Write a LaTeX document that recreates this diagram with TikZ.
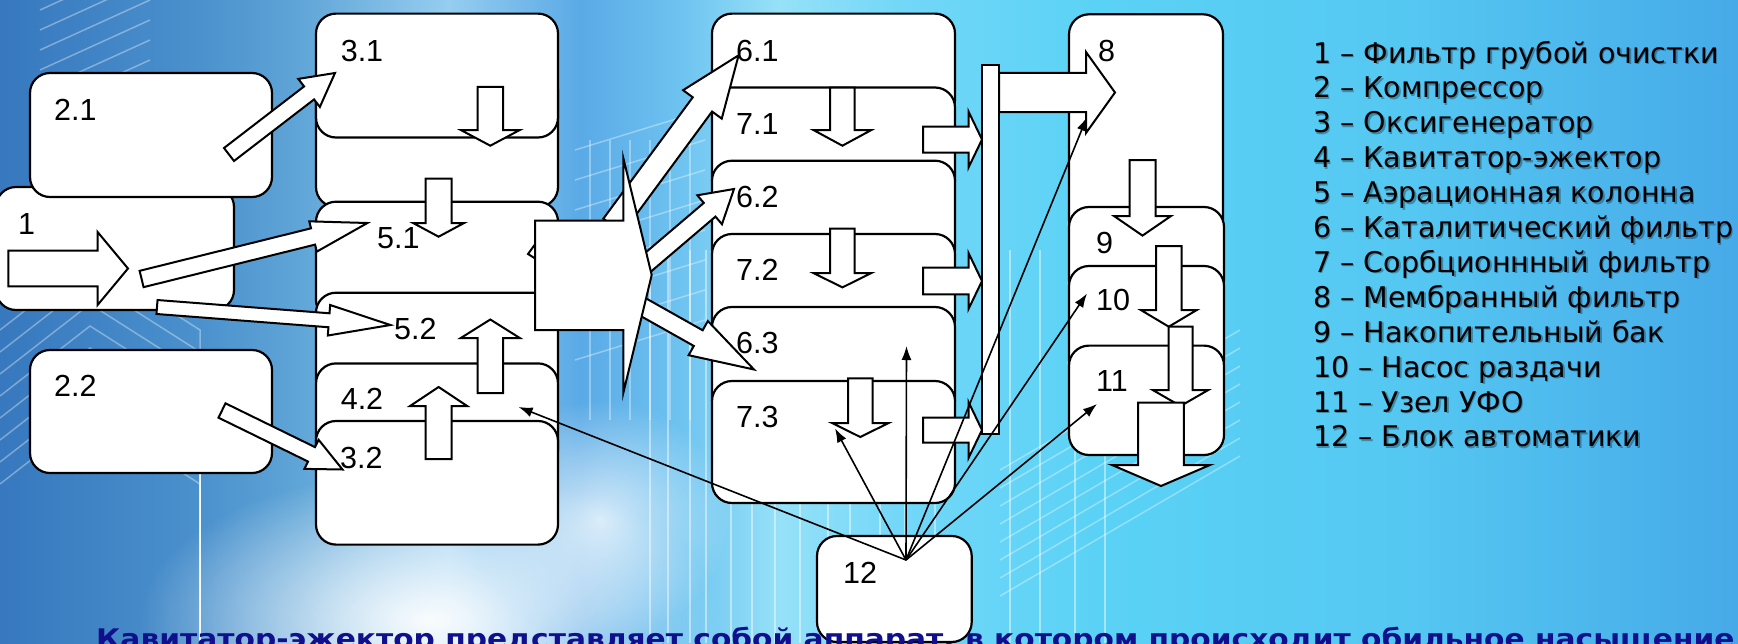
\documentclass[tikz,border=0pt]{standalone}
\usepackage{fontspec}
\setmainfont{Liberation Sans}
\newfontfamily\legfont{DejaVu Sans}
\newfontfamily\capfont{DejaVu Sans}[FakeStretch=1.1, BoldFeatures={FakeStretch=1.1}]
\usetikzlibrary{calc,arrows.meta,fadings}

\definecolor{navytxt}{RGB}{16,16,140}
\definecolor{bgA}{RGB}{55,120,190}
\definecolor{bgB}{RGB}{75,145,205}
\definecolor{bgC}{RGB}{95,165,215}
\definecolor{bgD}{RGB}{150,205,240}
\definecolor{bgE}{RGB}{90,170,230}
\definecolor{bgF}{RGB}{110,195,240}
\definecolor{bgG}{RGB}{150,225,248}
\definecolor{bgH}{RGB}{115,215,248}
\definecolor{bgI}{RGB}{90,210,245}
\definecolor{bgK}{RGB}{85,200,242}
\definecolor{bgJ}{RGB}{70,170,232}

\pgfdeclarehorizontalshading{bgsh}{100bp}{color(0bp)=(bgA); color(25bp)=(bgA); color(30.75bp)=(bgB); color(33.6bp)=(bgC); color(37.9bp)=(bgD); color(41.7bp)=(bgE); color(44.6bp)=(bgF); color(47.4bp)=(bgG); color(50.9bp)=(bgH); color(56.6bp)=(bgI); color(65.3bp)=(bgK); color(75bp)=(bgJ); color(100bp)=(bgJ)}

\tikzfading[name=softglow, inner color=transparent!0, outer color=transparent!100]

% block arrow: start, end, shaft half width, head half width, head length
\newcommand\blkarrow[5]{%
  \coordinate (bA) at (#1);
  \coordinate (bB) at (#2);
  \coordinate (bH) at ($(bB)!#5!(bA)$);
  \draw[blk] ($(bA)!#3!90:(bB)$) -- ($(bH)!#3!90:(bB)$) -- ($(bH)!#4!90:(bB)$) -- (bB)
    -- ($(bH)!#4!-90:(bB)$) -- ($(bH)!#3!-90:(bB)$) -- ($(bA)!#3!-90:(bB)$) -- cycle;
}

\begin{document}
\begin{tikzpicture}[x=1pt,y=-1pt,
  box/.style={draw=black, fill=white, line width=2.2pt, rounded corners=20pt},
  blk/.style={draw=black, fill=white, line width=2pt, line join=miter},
  lbl/.style={anchor=base west, inner sep=0pt, font=\fontsize{30.5}{30.5}\selectfont},
  leg/.style={anchor=base west, inner sep=0pt, font=\legfont\fontsize{28.5}{30}\selectfont},
  sig/.style={line width=1.6pt, -{Latex[length=14pt,width=10pt]}},
  bgline/.style={white, opacity=0.35, line width=1.5pt}]

\useasboundingbox (0,0) rectangle (1738,643);
\clip (0,0) rectangle (1738,643);

% ---------- background ----------
\fill[shading=bgsh] (0,0) rectangle (1738,643);
\fill[white, path fading=softglow, opacity=0.95] (430,620) ellipse [x radius=290, y radius=150];
\fill[white, path fading=softglow, opacity=0.75] (600,520) ellipse [x radius=130, y radius=120];
\foreach \xx in {650,668,690,706,731,752,775,800,828,850,880,905,935,1010,1040,1075,1105} {
  \draw[white, opacity=0.45, line width=2pt] (\xx,250) -- (\xx,643);
}
\foreach \k in {0,...,7} {
  \draw[bgline] (0,{330+22*\k}) -- (90,{260+22*\k}) -- (200,{330+22*\k}) -- (200,643);
  \draw[bgline] (40,{10+20*\k}) -- (150,{-40+20*\k});
  \draw[bgline] (575,{150+30*\k}) -- (705,{110+30*\k});
  \draw[bgline] (1000,{470+18*\k}) -- (1240,{330+18*\k});
}
\foreach \xx in {590,610,630,650,670,690} { \draw[bgline] (\xx,140) -- (\xx,420); }

% ---------- left boxes ----------
\draw[box] (-4,187) rectangle (234,310);
\draw[box] (30,73) rectangle (272,197);
\draw[box] (30,350) rectangle (272,473);

% ---------- column A ----------
\draw[box] (316,70) rectangle (558,207);
\draw[box] (316,13.6) rectangle (558,137.5);
\draw[box] (316,201.7) rectangle (558,320);
\draw[box] (316,292.7) rectangle (558,400);
\draw[box] (316,363.4) rectangle (558,470);
\draw[box] (316,421) rectangle (558,544.6);

% ---------- column B ----------
\draw[box] (712,13.6) rectangle (955,120);
\draw[box] (712,87.5) rectangle (955,200);
\draw[box] (712,160.7) rectangle (955,270);
\draw[box] (712,234) rectangle (955,340);
\draw[box] (712,307) rectangle (955,420);
\draw[box] (712,381) rectangle (955,503);

% ---------- column C ----------
\draw[box] (1069,14.3) rectangle (1223,240);
\draw[box] (1069,207) rectangle (1224,300);
\draw[box] (1069,266) rectangle (1224,380);
\draw[box] (1069,345.6) rectangle (1224,455);

% ---------- box 12 ----------
\draw[box] (817,536) rectangle (971.7,642);

% ---------- labels ----------
\node[lbl] (l1)  at (18,234)    {1};
\node[lbl] (l21) at (54,120)    {2.1};
\node[lbl] (l22) at (54,396)    {2.2};
\node[lbl] (l31) at (340.6,61)  {3.1};
\node[lbl] (l51) at (377,248)   {5.1};
\node[lbl] (l52) at (394,339)   {5.2};
\node[lbl] (l42) at (340.6,409) {4.2};
\node[lbl] (l32) at (340,468)   {3.2};
\node[lbl] (l61) at (736,61)    {6.1};
\node[lbl] (l71) at (736,134)   {7.1};
\node[lbl] (l62) at (736,207)   {6.2};
\node[lbl] (l72) at (736,280)   {7.2};
\node[lbl] (l63) at (736,353)   {6.3};
\node[lbl] (l73) at (736,427)   {7.3};
\node[lbl] (l8)  at (1098,61)   {8};
\node[lbl] (l9)  at (1096,253.5) {9};
\node[lbl] (l10) at (1096,310.6) {10};
\node[lbl] (l11) at (1096,391)  {11};
\node[lbl] (l12) at (843,583)   {12};

% ---------- block arrows, left ----------
\blkarrow{8.4,268.5}{128,268.5}{17.8pt}{36.5pt}{30.4pt}
\blkarrow{229,154.5}{335,73}{8.2pt}{17.7pt}{32.7pt}
\blkarrow{141.6,279}{367.4,223}{8.4pt}{15.6pt}{56pt}
\blkarrow{157,307}{390.4,325}{7pt}{15.3pt}{61.6pt}
\blkarrow{222,410.5}{342.5,469.5}{8pt}{16.2pt}{34.5pt}

% column A internal arrows
\blkarrow{490.3,86.8}{490.3,145.7}{12.7pt}{29.5pt}{15.7pt}
\blkarrow{438.6,178.5}{438.6,236.7}{13pt}{25.5pt}{13.7pt}
\blkarrow{490.3,393}{490.3,319.5}{12.7pt}{29.5pt}{18.5pt}
\blkarrow{438.6,459}{438.6,387}{13pt}{28.5pt}{19pt}

% arrows to 6.x (behind the big arrow)
\blkarrow{613,225.8}{738.6,55.3}{12pt}{24pt}{61pt}
\blkarrow{626,281}{734,189}{9pt}{19pt}{32pt}
\blkarrow{611,289}{754,369.5}{9pt}{19.6pt}{64pt}

% big distributing arrow
\draw[blk] (536,243) -- (528,254) -- (536,259);
\draw[blk] (535,220.7) -- (623.3,220.7) -- (623.3,158) -- (651.7,275) -- (623.3,393) -- (623.3,330) -- (535,330) -- cycle;

% column B internal arrows
\blkarrow{842.4,87.5}{842.4,145.7}{12.3pt}{29pt}{15.7pt}
\blkarrow{842.4,228.5}{842.4,287.4}{12.3pt}{29pt}{14.4pt}
\blkarrow{860.3,378.4}{860.3,437}{12.3pt}{28.3pt}{14pt}
\blkarrow{923,139.5}{982,139.5}{13pt}{28pt}{13.5pt}
\blkarrow{923,281}{982,281}{13.4pt}{28pt}{13.5pt}
\blkarrow{923,430}{982,430}{12.5pt}{28pt}{13.5pt}

% collector bar and arrow to 8
\draw[blk] (982,65.3) rectangle (999,433.8);
\blkarrow{999,92.5}{1115,92.5}{19.6pt}{40.5pt}{29pt}

% column C arrows
\blkarrow{1142.5,160}{1142.5,235.6}{13pt}{28.5pt}{19.6pt}
\blkarrow{1168.8,246}{1168.8,326.7}{12.8pt}{28pt}{16.7pt}
\blkarrow{1180.5,326.7}{1180.5,406}{12pt}{27.8pt}{16pt}
\blkarrow{1161,402.7}{1161,486}{22.8pt}{49pt}{21pt}

% ---------- control lines from 12 ----------
\coordinate (hub) at (906,560);
\coordinate (t42) at (518.6,407);
\coordinate (t73) at (835,428.4);
\coordinate (t63) at (906.5,346);
\coordinate (t8)  at (1087,117);
\coordinate (t10) at (1087,293.5);
\coordinate (t11) at (1097,404);
\foreach \t in {t42,t73,t63,t8,t10,t11} { \draw[sig] (hub) -- (\t); }

% ---------- legend ----------
\foreach \s [count=\i] in {1 – Фильтр грубой очистки, 2 – Компрессор, 3 – Оксигенератор,
  4 – Кавитатор-эжектор, 5 – Аэрационная колонна, 6 – Каталитический фильтр,
  7 – Сорбционнный фильтр, 8 – Мембранный фильтр, 9 – Накопительный бак,
  10 – Насос раздачи, 11 – Узел УФО, 12 – Блок автоматики} {
  \node[leg, text=black, opacity=0.3] (legs\i) at (1314.5,{64.5+34.9*(\i-1)}) {\s};
  \node[leg] (leg\i) at (1313,{63+34.9*(\i-1)}) {\s};
}

% ---------- bottom caption (cut off) ----------
\node[anchor=base west, inner sep=0pt, text=navytxt,
  font=\capfont\bfseries\fontsize{27}{27}\selectfont] (note) at (96,648)
  {Кавитатор-эжектор представляет собой аппарат, в котором происходит обильное насыщение ок};
\end{tikzpicture}
\end{document}
